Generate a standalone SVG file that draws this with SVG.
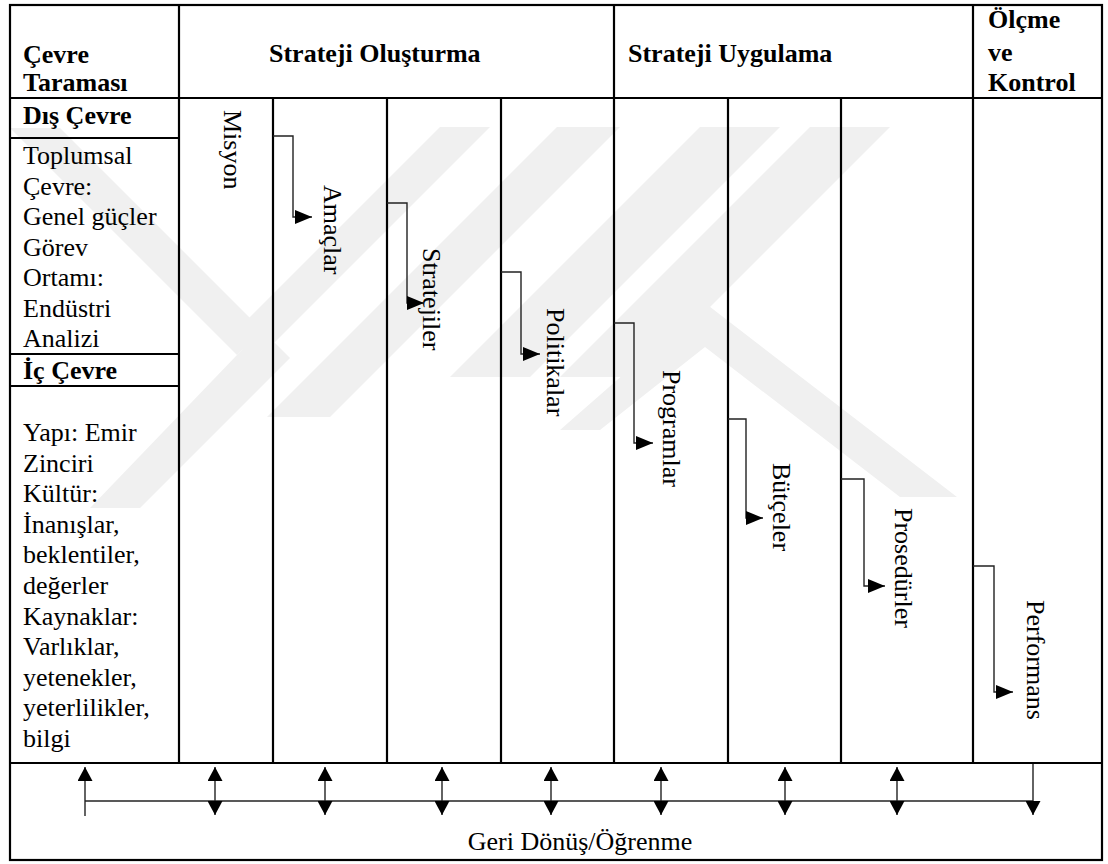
<svg xmlns="http://www.w3.org/2000/svg" width="1108" height="864" viewBox="0 0 1108 864">
  <style>
    .grid { stroke: #000; stroke-width: 2.2; fill: none; }
    .t { font-family: "Liberation Serif", "Times New Roman", serif; font-size: 26px; fill: #000; }
    .b { font-weight: bold; }
    .link { stroke: #222; stroke-width: 1.4; fill: none; }
    .wm { fill: #f0f0f0; }
  </style>
  <defs>
    <marker id="head" markerUnits="userSpaceOnUse" markerWidth="17" markerHeight="14" refX="17" refY="7" orient="auto">
      <path d="M0,0 L17,7 L0,14 z" fill="#000"/>
    </marker>
    <marker id="tip" markerUnits="userSpaceOnUse" markerWidth="14" markerHeight="15" refX="14" refY="7.5" orient="auto-start-reverse">
      <path d="M0,0 L14,7.5 L0,15 z" fill="#000"/>
    </marker>
  </defs>

  <rect x="0" y="0" width="1108" height="864" fill="#fff"/>

  <!-- faint page watermark behind the table -->
  <g id="watermark">
    <polygon class="wm" points="10,128 60,128 262,330 237,355 10,128"/>
    <polygon class="wm" points="237,355 262,330 290,358 140,508 90,508"/>
    <polygon class="wm" points="440,127 490,127 255,362 230,337"/>
    <polygon class="wm" points="557,127 620,127 330,417 267,417"/>
    <polygon class="wm" points="700,127 780,127 530,377 450,377"/>
    <polygon class="wm" points="810,127 890,127 640,377 560,377"/>
    <polygon class="wm" points="705,303 957,497 900,497 705,347 600,430 560,430"/>
  </g>

  <!-- table frame -->
  <g id="frame">
    <rect class="grid" x="10" y="5" width="1092" height="855"/>
    <line class="grid" x1="10" y1="98" x2="1102" y2="98"/>
    <line class="grid" x1="10" y1="763" x2="1102" y2="763"/>
    <!-- header dividers -->
    <line class="grid" x1="179" y1="5" x2="179" y2="763"/>
    <line class="grid" x1="614" y1="5" x2="614" y2="763"/>
    <line class="grid" x1="973" y1="5" x2="973" y2="763"/>
    <!-- stage columns -->
    <line class="grid" x1="273" y1="98" x2="273" y2="763"/>
    <line class="grid" x1="387" y1="98" x2="387" y2="763"/>
    <line class="grid" x1="501" y1="98" x2="501" y2="763"/>
    <line class="grid" x1="728" y1="98" x2="728" y2="763"/>
    <line class="grid" x1="841" y1="98" x2="841" y2="763"/>
    <!-- environment rows -->
    <line class="grid" x1="10" y1="138" x2="179" y2="138"/>
    <line class="grid" x1="10" y1="354" x2="179" y2="354"/>
    <line class="grid" x1="10" y1="386" x2="179" y2="386"/>
  </g>

  <!-- column headings -->
  <g id="headings">
    <text class="t b" x="23" y="63">Çevre</text>
    <text class="t b" x="23" y="91">Taraması</text>
    <text class="t b" x="269" y="62">Strateji Oluşturma</text>
    <text class="t b" x="628" y="62">Strateji Uygulama</text>
    <text class="t b" x="988" y="28">Ölçme</text>
    <text class="t b" x="988" y="61">ve</text>
    <text class="t b" x="988" y="91">Kontrol</text>
  </g>

  <!-- environmental scanning -->
  <g id="dis-cevre">
    <text class="t b" x="23" y="124">Dış Çevre</text>
    <text class="t" x="23" y="164">Toplumsal</text>
    <text class="t" x="23" y="194.5">Çevre:</text>
    <text class="t" x="23" y="225">Genel güçler</text>
    <text class="t" x="23" y="255.5">Görev</text>
    <text class="t" x="23" y="286">Ortamı:</text>
    <text class="t" x="23" y="316.5">Endüstri</text>
    <text class="t" x="23" y="347">Analizi</text>
  </g>
  <g id="ic-cevre">
    <text class="t b" x="23" y="379">İç Çevre</text>
    <text class="t" x="23" y="441">Yapı: Emir</text>
    <text class="t" x="23" y="471.6">Zinciri</text>
    <text class="t" x="23" y="502.2">Kültür:</text>
    <text class="t" x="23" y="532.8">İnanışlar,</text>
    <text class="t" x="23" y="563.4">beklentiler,</text>
    <text class="t" x="23" y="594">değerler</text>
    <text class="t" x="23" y="624.6">Kaynaklar:</text>
    <text class="t" x="23" y="655.2">Varlıklar,</text>
    <text class="t" x="23" y="685.8">yetenekler,</text>
    <text class="t" x="23" y="716.4">yeterlilikler,</text>
    <text class="t" x="23" y="747">bilgi</text>
  </g>

  <!-- stage labels (vertical) -->
  <g id="misyon"><text class="t" transform="translate(224,110) rotate(90)">Misyon</text></g>
  <g id="amaclar"><text class="t" transform="translate(324,185) rotate(90)">Amaçlar</text></g>
  <g id="stratejiler"><text class="t" transform="translate(423,248) rotate(90)">Stratejiler</text></g>
  <g id="politikalar"><text class="t" transform="translate(547,308) rotate(90)">Politikalar</text></g>
  <g id="programlar"><text class="t" transform="translate(663,370) rotate(90)">Programlar</text></g>
  <g id="butceler"><text class="t" transform="translate(773,463) rotate(90)">Bütçeler</text></g>
  <g id="prosedurler"><text class="t" transform="translate(895,508) rotate(90)">Prosedürler</text></g>
  <g id="performans"><text class="t" transform="translate(1027,600) rotate(90)">Performans</text></g>

  <!-- stage-to-stage flow -->
  <g id="connectors">
    <path class="link" marker-end="url(#head)" d="M273,136 H293 V217 H312"/>
    <path class="link" marker-end="url(#head)" d="M387,203 H407 V303 H424"/>
    <path class="link" marker-end="url(#head)" d="M501,272 H521 V354 H540"/>
    <path class="link" marker-end="url(#head)" d="M614,323 H634 V443 H653"/>
    <path class="link" marker-end="url(#head)" d="M728,419 H746 V518 H763"/>
    <path class="link" marker-end="url(#head)" d="M841,479 H864 V586 H885"/>
    <path class="link" marker-end="url(#head)" d="M973,566 H994 V692 H1013"/>

    <!-- feedback bus -->
    <line class="link" x1="85" y1="801" x2="1033" y2="801"/>
    <line class="link" x1="85" y1="816" x2="85" y2="767" marker-end="url(#tip)"/>
    <line class="link" x1="215" y1="767" x2="215" y2="815" marker-start="url(#tip)" marker-end="url(#tip)"/>
    <line class="link" x1="325" y1="767" x2="325" y2="815" marker-start="url(#tip)" marker-end="url(#tip)"/>
    <line class="link" x1="442" y1="767" x2="442" y2="815" marker-start="url(#tip)" marker-end="url(#tip)"/>
    <line class="link" x1="551" y1="767" x2="551" y2="815" marker-start="url(#tip)" marker-end="url(#tip)"/>
    <line class="link" x1="661" y1="767" x2="661" y2="815" marker-start="url(#tip)" marker-end="url(#tip)"/>
    <line class="link" x1="785" y1="767" x2="785" y2="815" marker-start="url(#tip)" marker-end="url(#tip)"/>
    <line class="link" x1="897" y1="767" x2="897" y2="815" marker-start="url(#tip)" marker-end="url(#tip)"/>
    <line class="link" x1="1033" y1="764" x2="1033" y2="815" marker-end="url(#tip)"/>
  </g>

  <g id="feedback-label">
    <text class="t" x="580" y="850" text-anchor="middle">Geri Dönüş/Öğrenme</text>
  </g>
</svg>
